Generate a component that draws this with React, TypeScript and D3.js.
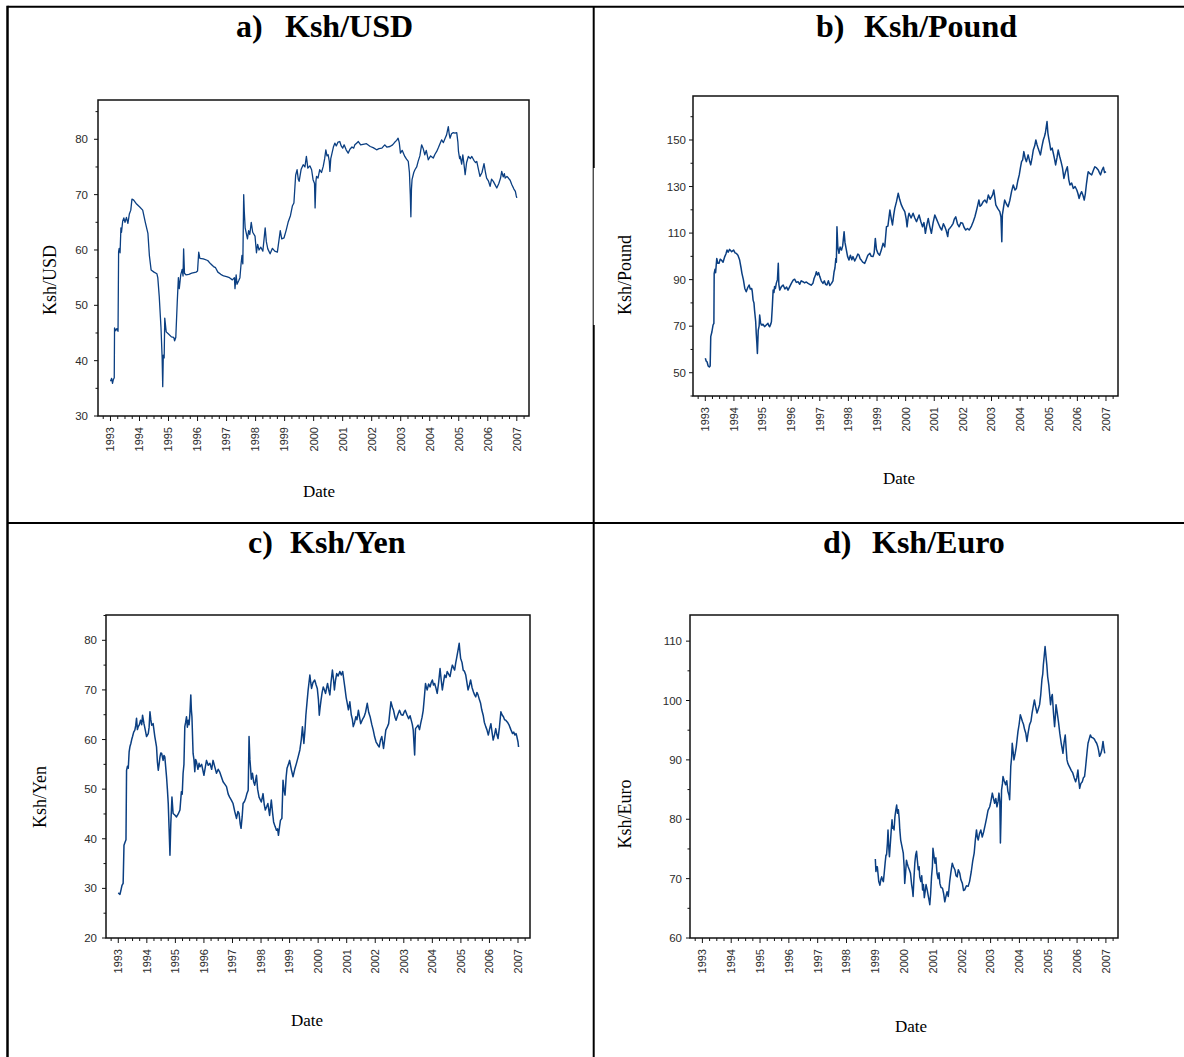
import React from "react";
import * as d3 from "d3";

type Pt = [number, number]; // [decimal year, Ksh per unit]

const usdSeries: Pt[] = [
  [1993.00,36.3],[1993.04,36.8],[1993.07,35.9],[1993.10,36.6],[1993.13,36.9],[1993.14,45.9],[1993.18,45.4],[1993.22,45.8],[1993.26,45.3],[1993.28,59.7],[1993.30,60.3],[1993.33,59.5],[1993.36,64.0],[1993.38,63.2],[1993.42,65.2],[1993.46,65.8],[1993.50,65.0],[1993.55,65.9],[1993.60,64.8],[1993.65,66.5],[1993.70,67.2],[1993.74,69.2],[1993.80,69.0],[1993.90,68.3],[1994.00,67.8],[1994.11,67.2],[1994.20,65.0],[1994.29,63.0],[1994.34,59.0],[1994.40,56.4],[1994.50,56.0],[1994.60,55.7],[1994.63,55.0],[1994.68,51.6],[1994.74,46.0],[1994.78,40.5],[1994.80,35.3],[1994.82,41.0],[1994.85,40.5],[1994.87,47.7],[1994.92,45.2],[1995.00,44.8],[1995.10,44.3],[1995.18,44.2],[1995.21,43.6],[1995.25,44.2],[1995.30,50.5],[1995.34,55.0],[1995.37,53.0],[1995.42,55.5],[1995.47,56.5],[1995.50,55.3],[1995.52,60.2],[1995.55,55.8],[1995.60,55.5],[1995.70,55.6],[1995.80,55.8],[1995.95,56.0],[1996.00,56.2],[1996.04,59.6],[1996.08,58.5],[1996.20,58.4],[1996.35,58.1],[1996.45,57.5],[1996.55,57.0],[1996.62,56.8],[1996.70,56.0],[1996.80,55.6],[1996.90,55.3],[1997.00,55.2],[1997.10,55.0],[1997.20,54.6],[1997.27,55.0],[1997.29,53.0],[1997.33,55.5],[1997.36,53.8],[1997.42,54.5],[1997.46,55.0],[1997.50,57.5],[1997.53,59.0],[1997.56,57.5],[1997.59,70.0],[1997.61,67.0],[1997.64,64.0],[1997.68,63.0],[1997.72,62.0],[1997.76,63.5],[1997.80,62.8],[1997.85,65.0],[1997.90,63.2],[1997.98,62.5],[1998.03,59.5],[1998.07,61.0],[1998.12,60.0],[1998.18,60.5],[1998.25,59.8],[1998.33,64.0],[1998.37,61.5],[1998.42,60.2],[1998.50,59.3],[1998.58,60.3],[1998.66,59.8],[1998.75,59.6],[1998.85,63.5],[1998.90,62.0],[1998.98,62.2],[1999.05,63.5],[1999.12,65.0],[1999.20,66.2],[1999.27,68.0],[1999.32,68.5],[1999.38,73.5],[1999.43,74.5],[1999.47,72.8],[1999.50,72.4],[1999.57,74.6],[1999.64,75.4],[1999.70,75.0],[1999.75,76.9],[1999.80,74.8],[1999.87,75.2],[1999.93,74.5],[1999.98,72.7],[2000.03,72.0],[2000.05,67.6],[2000.08,72.5],[2000.10,73.3],[2000.15,73.0],[2000.21,74.5],[2000.27,74.0],[2000.33,75.1],[2000.38,76.5],[2000.42,78.1],[2000.46,77.0],[2000.50,77.2],[2000.54,76.0],[2000.56,74.2],[2000.59,76.5],[2000.62,77.2],[2000.68,78.6],[2000.73,79.3],[2000.78,78.8],[2000.84,79.5],[2000.90,79.6],[2000.95,78.8],[2001.00,78.4],[2001.05,79.0],[2001.12,78.1],[2001.19,77.5],[2001.25,78.2],[2001.32,78.6],[2001.38,78.4],[2001.42,79.0],[2001.48,79.3],[2001.54,79.6],[2001.62,79.0],[2001.70,79.1],[2001.82,79.2],[2001.95,78.7],[2002.05,78.5],[2002.17,78.1],[2002.25,78.3],[2002.35,78.4],[2002.45,79.0],[2002.52,78.6],[2002.63,78.7],[2002.72,79.0],[2002.80,79.5],[2002.86,79.8],[2002.91,80.2],[2002.95,79.4],[2002.99,77.5],[2003.05,78.0],[2003.14,76.9],[2003.20,76.4],[2003.26,76.0],[2003.30,74.0],[2003.33,70.0],[2003.35,66.0],[2003.37,71.0],[2003.39,72.7],[2003.45,74.0],[2003.49,74.5],[2003.55,75.0],[2003.60,76.0],[2003.66,77.0],[2003.72,79.0],[2003.77,78.4],[2003.83,77.2],[2003.88,78.0],[2003.95,76.3],[2004.03,77.0],[2004.12,76.6],[2004.18,77.3],[2004.24,77.8],[2004.30,78.5],[2004.36,79.3],[2004.41,79.9],[2004.47,79.4],[2004.53,80.2],[2004.58,80.8],[2004.64,82.3],[2004.67,81.0],[2004.70,80.2],[2004.75,81.0],[2004.81,81.2],[2004.87,81.1],[2004.93,81.2],[2004.97,79.5],[2004.99,77.8],[2005.03,76.5],[2005.05,76.9],[2005.10,75.5],[2005.14,77.2],[2005.18,75.5],[2005.22,73.6],[2005.27,75.8],[2005.33,76.9],[2005.40,76.5],[2005.45,76.9],[2005.52,76.2],[2005.58,75.8],[2005.62,76.0],[2005.68,74.5],[2005.73,73.3],[2005.80,74.0],[2005.87,75.6],[2005.92,74.0],[2005.96,73.0],[2006.02,72.5],[2006.08,71.5],[2006.13,72.8],[2006.19,72.4],[2006.25,71.8],[2006.31,71.2],[2006.38,72.0],[2006.44,73.0],[2006.48,74.2],[2006.53,73.2],[2006.57,73.8],[2006.60,73.0],[2006.66,73.3],[2006.71,73.0],[2006.77,72.6],[2006.83,71.8],[2006.90,71.0],[2006.95,70.6],[2006.98,69.8],[2007.00,69.4],
];

const poundSeries: Pt[] = [
  [1993.00,56.2],[1993.03,55.0],[1993.06,54.7],[1993.10,52.9],[1993.14,52.5],[1993.17,52.9],[1993.19,65.5],[1993.23,67.5],[1993.27,70.5],[1993.30,71.2],[1993.31,92.7],[1993.34,94.5],[1993.36,93.0],[1993.40,99.1],[1993.44,97.0],[1993.48,97.0],[1993.52,98.8],[1993.56,98.4],[1993.62,97.5],[1993.68,99.9],[1993.72,101.0],[1993.76,102.7],[1993.80,101.8],[1993.85,103.0],[1993.92,102.0],[1993.99,102.7],[1994.04,101.5],[1994.08,101.3],[1994.14,100.5],[1994.20,98.4],[1994.25,95.0],[1994.28,92.7],[1994.33,90.0],[1994.38,86.2],[1994.43,84.8],[1994.48,86.5],[1994.53,87.7],[1994.57,86.0],[1994.62,86.2],[1994.64,85.0],[1994.67,81.2],[1994.70,80.0],[1994.72,76.9],[1994.76,72.0],[1994.78,66.9],[1994.80,63.0],[1994.82,58.3],[1994.85,68.3],[1994.88,70.0],[1994.90,74.8],[1994.93,71.5],[1994.96,70.5],[1995.02,70.8],[1995.07,69.8],[1995.13,70.5],[1995.19,71.2],[1995.22,70.2],[1995.25,69.8],[1995.29,71.0],[1995.31,71.9],[1995.34,78.0],[1995.37,85.5],[1995.40,84.5],[1995.42,87.0],[1995.45,86.2],[1995.48,88.4],[1995.52,90.0],[1995.55,97.0],[1995.57,88.0],[1995.60,85.5],[1995.66,87.0],[1995.72,87.7],[1995.78,86.0],[1995.84,86.8],[1995.89,85.5],[1995.95,87.0],[1996.01,88.5],[1996.07,89.8],[1996.12,90.2],[1996.18,88.8],[1996.24,89.1],[1996.30,88.0],[1996.35,89.5],[1996.41,89.1],[1996.47,88.6],[1996.53,89.0],[1996.59,88.4],[1996.65,88.0],[1996.70,87.6],[1996.76,88.4],[1996.80,90.5],[1996.85,92.0],[1996.88,93.4],[1996.92,92.0],[1996.96,93.0],[1997.00,91.3],[1997.05,89.5],[1997.11,88.4],[1997.16,89.5],[1997.20,88.0],[1997.25,87.7],[1997.30,89.5],[1997.35,87.5],[1997.41,88.4],[1997.46,89.5],[1997.50,93.4],[1997.53,95.0],[1997.56,99.1],[1997.58,97.5],[1997.60,112.7],[1997.63,104.0],[1997.67,101.3],[1997.71,104.0],[1997.76,102.7],[1997.80,104.5],[1997.85,110.6],[1997.88,106.0],[1997.93,102.7],[1997.97,100.0],[1998.02,98.4],[1998.07,100.5],[1998.12,98.5],[1998.16,99.9],[1998.22,98.0],[1998.28,99.5],[1998.33,101.0],[1998.37,100.6],[1998.41,99.0],[1998.45,98.4],[1998.50,97.5],[1998.57,97.0],[1998.62,98.5],[1998.68,100.5],[1998.75,101.3],[1998.80,100.0],[1998.86,99.9],[1998.90,101.5],[1998.94,107.7],[1998.98,103.0],[1999.03,101.3],[1999.09,100.5],[1999.15,102.7],[1999.21,105.6],[1999.27,104.0],[1999.33,112.7],[1999.38,113.0],[1999.45,119.9],[1999.50,116.0],[1999.54,113.5],[1999.58,117.5],[1999.62,120.6],[1999.68,123.5],[1999.74,127.1],[1999.79,124.5],[1999.85,122.1],[1999.91,120.5],[1999.97,119.2],[2000.02,116.0],[2000.05,112.7],[2000.09,117.0],[2000.12,118.5],[2000.19,116.5],[2000.26,118.5],[2000.32,116.5],[2000.38,114.9],[2000.43,116.5],[2000.47,117.8],[2000.53,115.0],[2000.59,112.7],[2000.64,114.5],[2000.69,109.9],[2000.74,113.5],[2000.79,116.3],[2000.84,113.0],[2000.90,109.9],[2000.96,114.5],[2001.02,117.8],[2001.08,116.0],[2001.14,114.2],[2001.20,112.5],[2001.26,111.3],[2001.32,114.0],[2001.37,112.7],[2001.42,111.0],[2001.47,108.5],[2001.50,111.5],[2001.54,112.0],[2001.60,113.0],[2001.66,114.2],[2001.70,116.0],[2001.75,117.0],[2001.81,114.0],[2001.87,112.7],[2001.93,114.5],[2001.99,114.2],[2002.04,112.5],[2002.10,111.3],[2002.16,112.0],[2002.22,111.3],[2002.30,113.0],[2002.36,114.9],[2002.42,117.0],[2002.48,119.9],[2002.52,122.0],[2002.56,124.2],[2002.60,121.5],[2002.65,122.1],[2002.71,123.5],[2002.77,124.2],[2002.83,123.0],[2002.89,126.4],[2002.95,124.5],[2003.00,125.6],[2003.04,126.5],[2003.08,128.5],[2003.12,125.0],[2003.15,122.1],[2003.22,120.5],[2003.29,119.2],[2003.33,117.0],[2003.36,106.3],[2003.38,117.8],[2003.42,121.0],[2003.46,124.2],[2003.52,122.5],[2003.58,121.3],[2003.64,124.0],[2003.70,127.8],[2003.76,130.7],[2003.82,128.5],[2003.87,129.2],[2003.92,132.5],[2003.97,135.0],[2004.01,138.0],[2004.05,140.7],[2004.09,141.5],[2004.13,145.0],[2004.18,142.0],[2004.22,140.7],[2004.28,143.6],[2004.33,141.0],[2004.37,139.3],[2004.42,142.5],[2004.46,145.7],[2004.51,147.5],[2004.55,150.0],[2004.59,148.0],[2004.63,146.4],[2004.67,145.0],[2004.71,143.6],[2004.76,147.0],[2004.81,150.0],[2004.85,151.5],[2004.88,152.9],[2004.94,157.9],[2004.97,153.0],[2005.00,150.7],[2005.04,148.0],[2005.07,145.7],[2005.12,146.5],[2005.16,144.3],[2005.20,142.0],[2005.24,139.3],[2005.29,142.5],[2005.33,145.7],[2005.38,143.0],[2005.43,140.7],[2005.48,138.0],[2005.53,133.5],[2005.58,136.0],[2005.62,137.5],[2005.65,138.5],[2005.70,133.0],[2005.74,130.7],[2005.80,131.5],[2005.86,129.2],[2005.92,130.0],[2005.98,128.5],[2006.02,127.0],[2006.06,124.9],[2006.10,126.5],[2006.15,127.8],[2006.20,126.0],[2006.24,124.2],[2006.28,127.0],[2006.32,131.4],[2006.36,135.0],[2006.38,136.4],[2006.44,135.5],[2006.50,135.0],[2006.56,137.0],[2006.61,138.5],[2006.67,138.0],[2006.73,137.1],[2006.77,136.0],[2006.81,135.0],[2006.86,137.0],[2006.91,138.3],[2006.95,136.0],[2007.00,136.4],
];

const yenSeries: Pt[] = [
  [1993.00,29.1],[1993.06,28.8],[1993.10,29.8],[1993.13,30.6],[1993.17,31.0],[1993.20,38.7],[1993.23,39.2],[1993.27,39.8],[1993.29,53.8],[1993.32,54.6],[1993.35,54.2],[1993.38,57.5],[1993.41,58.6],[1993.44,59.2],[1993.47,60.0],[1993.50,60.6],[1993.54,61.5],[1993.58,61.9],[1993.61,62.8],[1993.64,64.3],[1993.67,62.0],[1993.70,62.6],[1993.74,63.0],[1993.78,63.9],[1993.82,63.0],[1993.85,64.9],[1993.90,63.2],[1993.95,61.8],[1993.99,60.6],[1994.05,61.2],[1994.08,62.5],[1994.11,65.6],[1994.14,64.0],[1994.17,62.9],[1994.22,63.2],[1994.28,60.6],[1994.34,58.5],[1994.37,55.5],[1994.40,53.8],[1994.43,55.0],[1994.46,56.5],[1994.49,57.3],[1994.52,57.2],[1994.57,55.8],[1994.60,56.8],[1994.63,56.5],[1994.66,54.5],[1994.69,52.5],[1994.72,50.0],[1994.75,47.1],[1994.78,42.0],[1994.81,36.7],[1994.84,43.1],[1994.88,48.4],[1994.92,45.1],[1994.98,44.8],[1995.04,44.4],[1995.10,45.0],[1995.16,45.8],[1995.21,49.5],[1995.24,49.0],[1995.27,53.2],[1995.30,55.0],[1995.33,62.6],[1995.36,63.5],[1995.39,64.6],[1995.42,62.5],[1995.45,63.9],[1995.48,63.0],[1995.51,65.3],[1995.54,69.0],[1995.56,66.0],[1995.58,64.6],[1995.62,57.2],[1995.65,56.0],[1995.68,53.5],[1995.71,56.0],[1995.74,55.5],[1995.79,54.0],[1995.83,55.2],[1995.86,54.5],[1995.92,55.0],[1996.00,52.8],[1996.05,54.5],[1996.09,55.8],[1996.15,54.8],[1996.21,55.2],[1996.27,54.0],[1996.32,55.8],[1996.38,54.5],[1996.44,53.2],[1996.50,54.0],[1996.55,53.5],[1996.61,52.5],[1996.67,51.5],[1996.73,51.0],[1996.79,50.5],[1996.85,49.0],[1996.90,48.4],[1996.96,47.8],[1997.02,47.1],[1997.08,45.5],[1997.14,44.1],[1997.19,45.5],[1997.23,45.1],[1997.27,43.0],[1997.30,42.1],[1997.34,44.5],[1997.37,47.1],[1997.42,47.5],[1997.46,48.1],[1997.50,49.0],[1997.55,49.8],[1997.58,60.6],[1997.61,56.0],[1997.63,54.5],[1997.66,52.0],[1997.70,53.2],[1997.74,51.5],[1997.78,50.8],[1997.84,52.8],[1997.88,50.0],[1997.93,48.4],[1998.01,47.4],[1998.07,49.1],[1998.11,47.0],[1998.15,45.8],[1998.20,46.5],[1998.24,47.1],[1998.30,44.7],[1998.36,47.8],[1998.40,45.5],[1998.44,43.4],[1998.49,42.5],[1998.54,41.7],[1998.58,42.0],[1998.61,40.7],[1998.65,42.5],[1998.68,43.7],[1998.73,44.1],[1998.77,51.8],[1998.80,50.0],[1998.84,48.8],[1998.88,52.5],[1998.91,54.2],[1998.96,55.0],[1999.00,55.8],[1999.06,54.0],[1999.12,52.5],[1999.18,54.0],[1999.24,55.2],[1999.30,56.5],[1999.36,57.9],[1999.41,60.0],[1999.45,62.6],[1999.50,59.2],[1999.54,62.0],[1999.57,64.9],[1999.61,67.5],[1999.65,70.0],[1999.68,71.5],[1999.71,73.0],[1999.74,71.5],[1999.77,70.3],[1999.82,71.5],[1999.88,72.0],[1999.93,71.0],[1999.97,70.3],[2000.01,68.0],[2000.04,64.9],[2000.07,66.5],[2000.10,67.9],[2000.14,69.5],[2000.18,70.6],[2000.22,70.0],[2000.26,69.3],[2000.30,70.5],[2000.33,71.3],[2000.37,70.0],[2000.41,69.0],[2000.45,71.5],[2000.50,74.0],[2000.54,72.0],[2000.57,70.0],[2000.61,72.0],[2000.65,73.3],[2000.70,72.8],[2000.76,73.7],[2000.81,73.0],[2000.86,73.7],[2000.90,72.0],[2000.94,70.3],[2000.98,68.5],[2001.02,67.3],[2001.06,66.0],[2001.11,67.6],[2001.16,65.0],[2001.20,64.0],[2001.23,62.6],[2001.28,63.5],[2001.32,64.6],[2001.36,64.0],[2001.41,65.9],[2001.45,64.5],[2001.49,63.2],[2001.55,64.0],[2001.61,64.6],[2001.66,65.5],[2001.72,67.3],[2001.77,65.5],[2001.82,64.6],[2001.88,63.0],[2001.93,61.9],[2001.98,60.5],[2002.03,59.5],[2002.08,59.0],[2002.14,58.5],[2002.18,59.8],[2002.23,60.6],[2002.29,58.2],[2002.33,60.0],[2002.37,61.9],[2002.42,62.5],[2002.47,63.2],[2002.51,65.5],[2002.55,67.6],[2002.60,66.5],[2002.64,65.9],[2002.69,64.5],[2002.73,63.9],[2002.79,65.0],[2002.85,65.9],[2002.91,65.0],[2002.97,64.9],[2003.01,65.5],[2003.05,65.9],[2003.11,65.0],[2003.17,64.2],[2003.22,64.8],[2003.26,63.9],[2003.30,63.0],[2003.33,61.9],[2003.38,56.9],[2003.41,62.2],[2003.45,62.5],[2003.50,62.9],[2003.55,62.0],[2003.59,63.2],[2003.64,64.5],[2003.68,65.9],[2003.72,68.5],[2003.76,71.3],[2003.79,70.5],[2003.82,70.0],[2003.87,71.2],[2003.92,70.6],[2003.96,71.5],[2004.00,72.0],[2004.04,71.0],[2004.08,71.3],[2004.12,70.5],[2004.17,69.3],[2004.22,71.5],[2004.27,74.3],[2004.31,72.0],[2004.35,70.0],[2004.39,71.5],[2004.43,73.0],[2004.48,72.5],[2004.52,73.7],[2004.57,73.2],[2004.62,72.7],[2004.66,74.0],[2004.70,75.0],[2004.74,74.5],[2004.78,74.0],[2004.82,75.5],[2004.85,76.4],[2004.90,78.0],[2004.94,79.4],[2004.97,77.5],[2004.99,76.4],[2005.04,75.5],[2005.08,74.0],[2005.12,73.8],[2005.17,73.0],[2005.21,71.5],[2005.25,70.0],[2005.30,71.0],[2005.34,72.0],[2005.39,70.5],[2005.44,69.6],[2005.48,69.0],[2005.52,68.6],[2005.56,69.5],[2005.60,69.0],[2005.65,68.0],[2005.69,67.3],[2005.73,66.0],[2005.78,64.9],[2005.82,63.5],[2005.87,62.6],[2005.91,62.0],[2005.96,60.9],[2006.00,62.0],[2006.05,63.2],[2006.09,61.5],[2006.13,59.9],[2006.18,61.0],[2006.22,62.2],[2006.26,61.0],[2006.30,60.2],[2006.35,62.5],[2006.40,65.6],[2006.44,65.0],[2006.49,64.6],[2006.53,64.0],[2006.57,63.9],[2006.63,63.5],[2006.69,62.9],[2006.75,62.0],[2006.81,61.2],[2006.85,61.5],[2006.89,60.9],[2006.93,61.2],[2006.96,60.6],[2007.00,59.5],[2007.02,58.5],
];

const euroSeries: Pt[] = [
  [1999.00,73.3],[1999.02,71.2],[1999.05,72.0],[1999.07,72.0],[1999.10,70.5],[1999.12,69.5],[1999.16,68.9],[1999.19,69.8],[1999.22,70.3],[1999.25,69.8],[1999.28,69.5],[1999.31,71.0],[1999.34,72.6],[1999.37,74.0],[1999.39,74.0],[1999.42,76.0],[1999.44,78.2],[1999.47,75.0],[1999.49,73.7],[1999.53,76.5],[1999.55,78.0],[1999.58,79.9],[1999.60,78.5],[1999.62,78.8],[1999.65,78.2],[1999.68,80.4],[1999.71,81.5],[1999.74,82.4],[1999.77,81.0],[1999.80,81.6],[1999.83,80.0],[1999.85,78.2],[1999.88,76.5],[1999.92,75.5],[1999.97,74.3],[2000.00,72.0],[2000.02,69.2],[2000.05,71.0],[2000.08,73.1],[2000.11,72.5],[2000.14,72.0],[2000.18,71.5],[2000.22,70.9],[2000.26,69.0],[2000.29,68.0],[2000.31,67.0],[2000.34,70.0],[2000.37,72.6],[2000.40,74.0],[2000.43,74.6],[2000.46,73.0],[2000.49,71.5],[2000.52,72.0],[2000.54,70.3],[2000.58,69.5],[2000.61,70.5],[2000.64,68.1],[2000.67,69.0],[2000.70,66.8],[2000.72,67.5],[2000.76,69.0],[2000.80,68.1],[2000.84,67.0],[2000.87,66.2],[2000.89,65.6],[2000.92,67.5],[2000.95,70.3],[2000.98,72.0],[2001.00,75.1],[2001.03,74.0],[2001.07,72.6],[2001.10,73.5],[2001.14,70.9],[2001.18,70.0],[2001.21,71.0],[2001.24,69.2],[2001.28,68.5],[2001.33,68.4],[2001.37,67.5],[2001.41,66.1],[2001.45,67.0],[2001.49,67.8],[2001.53,67.0],[2001.58,69.5],[2001.62,71.0],[2001.67,72.6],[2001.71,72.0],[2001.76,71.5],[2001.80,70.5],[2001.84,70.3],[2001.88,71.5],[2001.93,70.9],[2001.97,69.8],[2002.02,69.2],[2002.06,68.0],[2002.10,68.1],[2002.16,68.8],[2002.22,68.7],[2002.27,69.5],[2002.33,71.2],[2002.38,73.0],[2002.43,74.3],[2002.47,76.5],[2002.51,78.2],[2002.54,77.0],[2002.57,76.5],[2002.61,77.5],[2002.66,78.2],[2002.71,77.0],[2002.76,77.9],[2002.81,79.0],[2002.86,80.2],[2002.91,81.5],[2002.97,82.1],[2003.01,83.0],[2003.06,84.4],[2003.10,83.5],[2003.14,82.7],[2003.18,83.5],[2003.22,82.1],[2003.26,83.0],[2003.29,84.4],[2003.32,83.0],[2003.34,76.0],[2003.36,80.0],[2003.38,84.9],[2003.41,86.0],[2003.43,87.2],[2003.47,86.5],[2003.52,85.8],[2003.56,86.5],[2003.60,84.7],[2003.64,84.0],[2003.66,83.3],[2003.70,88.9],[2003.73,90.5],[2003.75,92.8],[2003.78,91.5],[2003.81,90.0],[2003.85,91.0],[2003.89,92.2],[2003.92,93.5],[2003.95,94.8],[2003.99,96.0],[2004.03,97.6],[2004.07,97.0],[2004.10,96.5],[2004.14,96.0],[2004.18,95.1],[2004.22,94.5],[2004.26,93.1],[2004.30,94.5],[2004.35,95.9],[2004.40,96.5],[2004.44,97.9],[2004.48,99.0],[2004.52,100.1],[2004.56,99.0],[2004.61,97.9],[2004.65,98.5],[2004.70,99.3],[2004.74,101.0],[2004.78,103.5],[2004.81,104.5],[2004.83,106.0],[2004.86,107.5],[2004.89,109.1],[2004.92,107.5],[2004.95,106.0],[2004.98,104.0],[2005.02,102.6],[2005.05,101.0],[2005.08,99.3],[2005.11,100.5],[2005.14,101.0],[2005.18,98.0],[2005.22,95.6],[2005.25,97.5],[2005.27,99.3],[2005.31,98.0],[2005.36,96.2],[2005.40,94.5],[2005.45,92.8],[2005.48,92.0],[2005.51,91.1],[2005.55,93.0],[2005.59,94.2],[2005.62,92.0],[2005.65,90.0],[2005.68,89.4],[2005.72,89.0],[2005.76,88.6],[2005.80,88.2],[2005.85,87.8],[2005.90,87.0],[2005.95,86.3],[2005.99,87.0],[2006.03,88.3],[2006.06,86.5],[2006.09,85.2],[2006.13,86.0],[2006.18,86.3],[2006.22,87.0],[2006.26,87.2],[2006.29,88.5],[2006.32,90.0],[2006.35,91.5],[2006.38,92.8],[2006.42,93.5],[2006.46,94.2],[2006.50,93.8],[2006.55,93.7],[2006.60,93.5],[2006.64,93.1],[2006.68,92.8],[2006.72,92.2],[2006.75,91.5],[2006.78,90.6],[2006.82,91.0],[2006.86,91.7],[2006.90,93.1],[2006.93,92.0],[2006.96,91.1],
];

const yearTicks = d3.range(1993, 2008);
const usdTicks = [30, 40, 50, 60, 70, 80];
const poundTicks = [50, 70, 90, 110, 130, 150];
const yenTicks = [20, 30, 40, 50, 60, 70, 80];
const euroTicks = [60, 70, 80, 90, 100, 110];

const panelLetters = ["a)", "b)", "c)", "d)"];
const panelNames = ["Ksh/USD", "Ksh/Pound", "Ksh/Yen", "Ksh/Euro"];
const xAxisTitle = "Date";

const LINE = "#0b3f82";
const TICK_TEXT = "#2b2b2b";
const SERIF = "'Liberation Serif', 'Times New Roman', serif";
const SANS = "'Liberation Sans', Arial, sans-serif";

interface PanelSpec {
  data: Pt[];
  left: number; top: number; right: number; bottom: number;
  yDomain: [number, number];
  yTicks: number[];
  yMinorStep: number;
  labelGap: number;
  lineWidth: number;
  letter: string; name: string;
  titleX: number; nameX: number; titleY: number;
  yTitleX: number; yTitleY: number;
  dateX: number; dateY: number;
}

function Panel({ p }: { p: PanelSpec }) {
  const x = d3.scaleLinear().domain([1992.57, 2007.42]).range([p.left, p.right]);
  const y = d3.scaleLinear().domain(p.yDomain).range([p.bottom, p.top]);
  const line = d3.line<Pt>().x(d => x(d[0])).y(d => y(d[1]));
  const [y0, y1] = p.yDomain;
  const yMinor = d3.range(p.yTicks[0] - p.yMinorStep / 2, y1 + 0.01, p.yMinorStep)
    .filter(v => v >= y0 - 0.01 && v <= y1);
  const xMinor = d3.range(1992.75, 2007.3, 0.25).filter(v => Math.abs(v - Math.round(v)) > 0.01);
  return (
    <g>
      <text x={p.titleX} y={p.titleY} fontFamily={SERIF} fontWeight="bold" fontSize={32} fill="#000">{p.letter}</text>
      <text x={p.nameX} y={p.titleY} fontFamily={SERIF} fontWeight="bold" fontSize={32} fill="#000">{p.name}</text>

      <path d={line(p.data) || ""} fill="none" stroke={LINE} strokeWidth={p.lineWidth} strokeLinejoin="round" />

      <rect x={p.left} y={p.top} width={p.right - p.left} height={p.bottom - p.top}
        fill="none" stroke="#111" strokeWidth={1.5} />

      {p.yTicks.map(v => (
        <g key={"y" + v}>
          <line x1={p.left - 4} x2={p.left} y1={y(v)} y2={y(v)} stroke="#111" strokeWidth={1} />
          <text x={p.left - p.labelGap} y={y(v)} dy="0.35em" textAnchor="end"
            fontFamily={SANS} fontSize={11.5} fill={TICK_TEXT}>{v}</text>
        </g>
      ))}
      {yMinor.map(v => (
        <line key={"ym" + v} x1={p.left - 2.5} x2={p.left} y1={y(v)} y2={y(v)} stroke="#111" strokeWidth={1} />
      ))}

      {yearTicks.map(t => (
        <g key={"x" + t}>
          <line x1={x(t)} x2={x(t)} y1={p.bottom} y2={p.bottom + 5} stroke="#111" strokeWidth={1} />
          <text transform={`translate(${x(t)},${p.bottom + 11}) rotate(-90)`} dy="0.35em" textAnchor="end"
            fontFamily={SANS} fontSize={11} fill={TICK_TEXT}>{t}</text>
        </g>
      ))}
      {xMinor.map(t => (
        <line key={"xm" + t} x1={x(t)} x2={x(t)} y1={p.bottom} y2={p.bottom + 3} stroke="#111" strokeWidth={1} />
      ))}

      <text transform={`translate(${p.yTitleX},${p.yTitleY}) rotate(-90)`} dy="0.32em" textAnchor="middle"
        fontFamily={SERIF} fontSize={18} fill="#000">{p.name}</text>
      <text x={p.dateX} y={p.dateY} textAnchor="middle" fontFamily={SERIF} fontSize={17} fill="#000">{xAxisTitle}</text>
    </g>
  );
}

const panels: PanelSpec[] = [
  {
    data: usdSeries, left: 98, top: 100, right: 529, bottom: 416,
    yDomain: [30, 87.1], yTicks: usdTicks, yMinorStep: 10, labelGap: 10, lineWidth: 1.3,
    letter: panelLetters[0], name: panelNames[0], titleX: 236, nameX: 285, titleY: 37,
    yTitleX: 50, yTitleY: 280, dateX: 319, dateY: 497,
  },
  {
    data: poundSeries, left: 693, top: 96, right: 1118, bottom: 396,
    yDomain: [40, 168.9], yTicks: poundTicks, yMinorStep: 20, labelGap: 7, lineWidth: 1.5,
    letter: panelLetters[1], name: panelNames[1], titleX: 816, nameX: 864, titleY: 37,
    yTitleX: 625, yTitleY: 275, dateX: 899, dateY: 484,
  },
  {
    data: yenSeries, left: 106, top: 615, right: 530, bottom: 938,
    yDomain: [20, 85.1], yTicks: yenTicks, yMinorStep: 10, labelGap: 9, lineWidth: 1.5,
    letter: panelLetters[2], name: panelNames[2], titleX: 248, nameX: 290, titleY: 553,
    yTitleX: 40, yTitleY: 797, dateX: 307, dateY: 1026,
  },
  {
    data: euroSeries, left: 690, top: 615, right: 1118, bottom: 938,
    yDomain: [60, 114.4], yTicks: euroTicks, yMinorStep: 10, labelGap: 8, lineWidth: 1.5,
    letter: panelLetters[3], name: panelNames[3], titleX: 823, nameX: 872, titleY: 553,
    yTitleX: 625, yTitleY: 814, dateX: 911, dateY: 1032,
  },
];

export default function App() {
  return (
    <svg width={1184} height={1057} viewBox="0 0 1184 1057"
      style={{ position: "absolute", left: 0, top: 0, display: "block", background: "#fff" }}>
      <rect x={0} y={0} width={1184} height={1057} fill="#fff" />
      {/* grid frame around the four panels */}
      <line x1={7.5} x2={1184} y1={6.7} y2={6.7} stroke="#000" strokeWidth={2} />
      <line x1={7.5} x2={7.5} y1={5.7} y2={1057} stroke="#000" strokeWidth={2.5} />
      <line x1={593.7} x2={593.7} y1={6} y2={168} stroke="#000" strokeWidth={2} />
      <line x1={593.2} x2={593.2} y1={168} y2={325} stroke="#000" strokeWidth={1} />
      <line x1={593.7} x2={593.7} y1={325} y2={1057} stroke="#000" strokeWidth={2} />
      <line x1={7.5} x2={1184} y1={523} y2={523} stroke="#000" strokeWidth={2} />
      {panels.map((p, i) => <Panel key={i} p={p} />)}
    </svg>
  );
}
